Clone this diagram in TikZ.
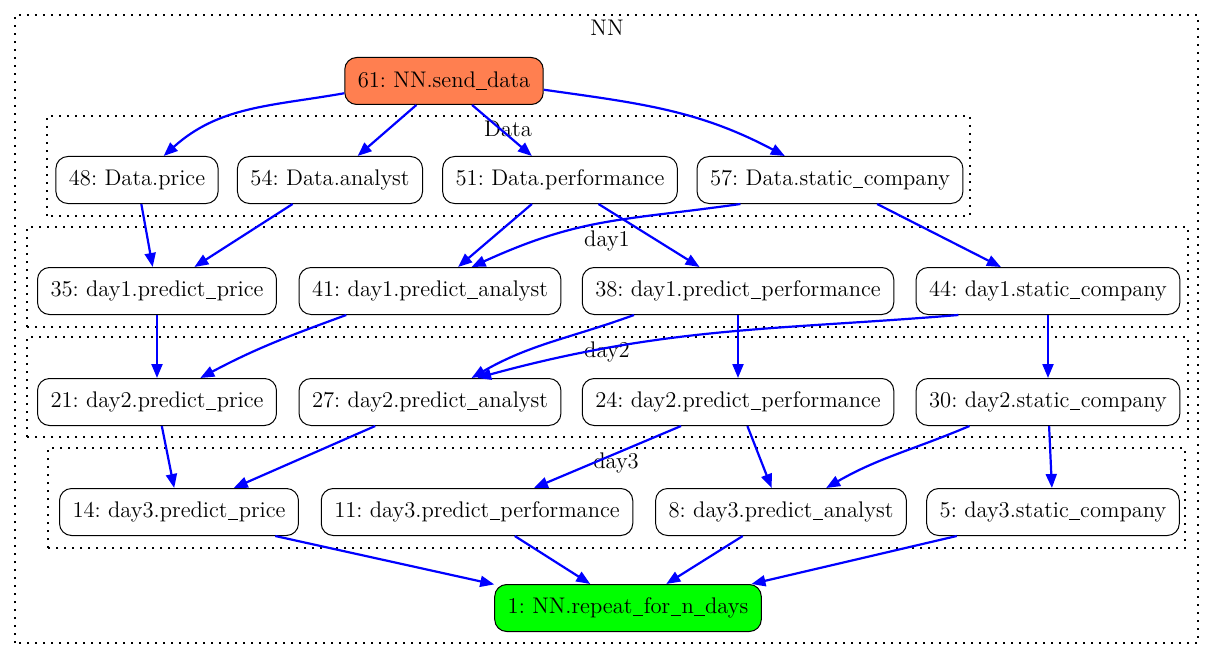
\documentclass[tikz,border=0pt]{standalone}
\usepackage{tikz}
\usetikzlibrary{arrows.meta}

\definecolor{sendcol}{HTML}{FF7F50}
\definecolor{repeatcol}{HTML}{00FF00}

\newcommand{\us}{\kern0.02em\rule[-0.25ex]{0.46em}{0.35pt}\kern0.02em}
\frenchspacing

\tikzset{
  task/.style={draw=black, line width=0.5pt, rounded corners=6pt, fill=white,
               minimum height=23.5pt, inner xsep=6.5pt, inner ysep=0pt},
  cluster/.style={draw=black, line width=0.6pt, dash pattern=on 0.9pt off 3.1pt},
  flow/.style={draw=blue, line width=1.1pt, -{Triangle[length=7pt, width=5.5pt]}}
}

\begin{document}
\begin{tikzpicture}[x=0.5pt, y=0.5pt, font=\fontsize{11.3}{13}\selectfont]

  \useasboundingbox (0, 0) rectangle (1215, 660);

  % clusters
  \draw[cluster] (15, 17) rectangle (1198, 645);
  \node (lNN) at (607, 632) {NN};
  \draw[cluster] (47, 444) rectangle (970, 544);
  \node (lData) at (508, 531) {Data};
  \draw[cluster] (27, 333) rectangle (1188, 433);
  \node (lday1) at (607, 419) {day1};
  \draw[cluster] (27, 223) rectangle (1188, 323);
  \node (lday2) at (607, 308) {day2};
  \draw[cluster] (48, 112) rectangle (1185, 212);
  \node (lday3) at (616, 197) {day3};

  % nodes
  \node[task, fill=sendcol] (n61) at (444, 579) {61: NN.send\us data};

  \foreach \id/\x/\lbl in {48/137/Data.price, 54/330/Data.analyst,
                           51/560/Data.performance, 57/830/Data.static\us company} {
    \node[task] (n\id) at (\x, 480) {\id: \lbl};
  }

  \foreach \id/\x/\lbl in {35/157/day1.predict\us price, 41/430/day1.predict\us analyst,
                           38/738/day1.predict\us performance, 44/1048/day1.static\us company} {
    \node[task] (n\id) at (\x, 369) {\id: \lbl};
  }

  \foreach \id/\x/\lbl in {21/157/day2.predict\us price, 27/430/day2.predict\us analyst,
                           24/738/day2.predict\us performance, 30/1048/day2.static\us company} {
    \node[task] (n\id) at (\x, 258) {\id: \lbl};
  }

  \foreach \id/\x/\lbl in {14/179/day3.predict\us price, 11/477/day3.predict\us performance,
                           8/781/day3.predict\us analyst, 5/1053/day3.static\us company} {
    \node[task] (n\id) at (\x, 148) {\id: \lbl};
  }

  \node[task, fill=repeatcol] (n1) at (628, 52) {1: NN.repeat\us for\us n\us days};

  % edges
  \draw[flow] (n61.187) to[out=190, in=42] (n48.42);
  \draw[flow] (n61) -- (n54);
  \draw[flow] (n61) -- (n51);
  \draw[flow] (n61.-5) to[out=-8, in=152] (n57.152);

  \foreach \a/\b in {48/35, 54/35, 51/41, 51/38, 57/44, 35/21, 38/24, 44/30,
                     21/14, 27/14, 24/11, 24/8, 30/5, 11/1, 8/1} {
    \draw[flow] (n\a) -- (n\b);
  }

  \draw[flow] (n57.195) .. controls +(-120, -17) and +(110, 50) .. (n41.30);
  \draw[flow] (n41.196) to[out=200, in=28] (n21.29);
  \draw[flow] (n38.193) to[out=200, in=30] (n27.30);
  \draw[flow] (n44.195) .. controls +(-180, -15) and +(190, 52) .. (n27.27);
  \draw[flow] (n30.197) to[out=203, in=30] (n8.28);
  \draw[flow] (n14.-14) -- (n1.170);
  \draw[flow] (n5.194) -- (n1.11);

\end{tikzpicture}
\end{document}
